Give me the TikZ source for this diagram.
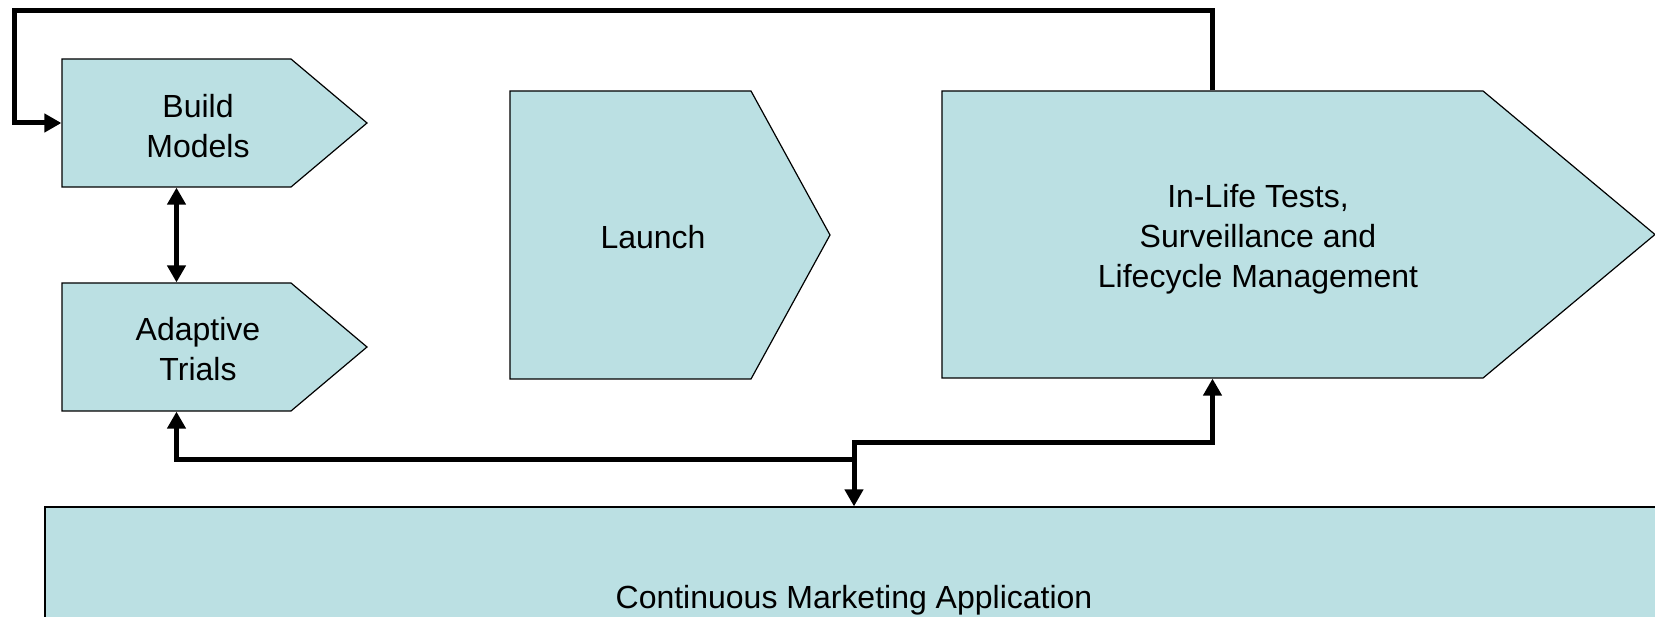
\documentclass[tikz,border=0pt]{standalone}
\usepackage{fontspec}
\setmainfont{Liberation Sans}
\usetikzlibrary{shapes.symbols}
\usetikzlibrary{arrows.meta}
\definecolor{stagefill}{RGB}{187,224,227}

\begin{document}
\begin{tikzpicture}[x=1pt, y=-1pt,
  stage/.style={shape=signal, signal to=east, draw=black, line width=1.2pt, fill=stagefill, inner sep=0pt},
  caption/.style={align=center, font=\fontsize{32}{40}\selectfont, label distance=0pt},
  flow/.style={line width=5pt},
  >={Triangle[length=17pt,width=18pt]}]
\useasboundingbox (0,0) rectangle (1655,617);
% the four stages
\node[stage, minimum width=305, minimum height=128, signal pointer angle=80.2,
  label={[caption, xshift=21.5pt, yshift=-3pt]center:{Build\\Models}}] (bm) at (176.5,123) {};
\node[stage, minimum width=305, minimum height=128, signal pointer angle=80.2,
  label={[caption, xshift=21.5pt, yshift=-2pt]center:{Adaptive\\Trials}}] (at) at (176.5,347) {};
\node[stage, minimum width=320, minimum height=288, signal pointer angle=122.5,
  label={[caption, xshift=22.5pt, yshift=-2pt]center:{Launch}}] (launch) at (630.5,235) {};
\node[stage, minimum width=713, minimum height=287, signal pointer angle=79.7,
  label={[caption, xshift=45.5pt, yshift=-5pt]center:{In-Life Tests,\\Surveillance and\\Lifecycle Management}}] (life) at (1212.5,234.5) {};
\node[draw=black, line width=1.2pt, fill=stagefill, minimum width=1618, minimum height=186, caption] (cma) at (854,600) {Continuous Marketing Application};
% connectors
\coordinate (corner) at (14,11);
\coordinate (split) at (854,443);
\coordinate (tee) at (854,459);
\draw[flow,->] (life.north) |- (corner) |- (bm.west);
\draw[flow,<->] (bm.south) -- (at.north);
\draw[flow,<->] (cma.north) -- (split) -| (life.south);
\draw[flow,->] (tee) -| (at.south);
\end{tikzpicture}
\end{document}
